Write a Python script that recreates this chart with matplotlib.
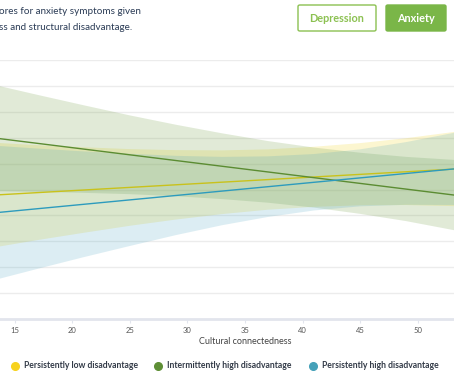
import numpy as np
import matplotlib.pyplot as plt
from matplotlib.patches import FancyBboxPatch
from matplotlib.lines import Line2D

plt.rcParams['font.family'] = ['Lato', 'DejaVu Sans']

# cultural connectedness points where the bands were read
xs = [13, 17, 21, 25, 29, 33, 37, 41, 45, 49, 54]

# fitted lines (two end points)
line_x = [13, 54]
low_line = [4.78, 5.81]
inter_line = [7.00, 4.74]
high_line = [4.09, 5.83]

# confidence bands
low_upper = [6.81, 6.71, 6.63, 6.56, 6.52, 6.51, 6.55, 6.65, 6.79, 6.98, 7.27]
low_lower = [2.75, 3.05, 3.33, 3.60, 3.84, 4.05, 4.22, 4.33, 4.39, 4.40, 4.35]
inter_upper = [9.06, 8.65, 8.25, 7.86, 7.50, 7.17, 6.87, 6.62, 6.42, 6.26, 6.12]
inter_lower = [4.94, 4.91, 4.87, 4.82, 4.74, 4.63, 4.49, 4.30, 4.06, 3.78, 3.36]
high_upper = [6.70, 6.58, 6.47, 6.38, 6.30, 6.26, 6.28, 6.37, 6.55, 6.83, 7.26]
high_lower = [1.48, 1.94, 2.39, 2.82, 3.24, 3.62, 3.94, 4.19, 4.35, 4.41, 4.40]

xticks = [15, 20, 25, 30, 35, 40, 45, 50]
groups = ["Persistently low disadvantage", "Intermittently high disadvantage",
          "Persistently high disadvantage"]

fig = plt.figure(figsize=(4.54, 3.88), dpi=100)
W, H = 454.0, 388.0
ax = fig.add_axes([0, (H - 319) / H, 1, 259 / H])

ax.fill_between(xs, low_lower, low_upper, color='#f0d214', alpha=0.2, lw=0)
ax.fill_between(xs, inter_lower, inter_upper, color='#6a9a3a', alpha=0.2, lw=0)
ax.fill_between(xs, high_lower, high_upper, color='#40a0be', alpha=0.18, lw=0)

ax.plot(line_x, low_line, color='#c9c21b', lw=1.0)
ax.plot(line_x, inter_line, color='#5b8c32', lw=1.0)
ax.plot(line_x, high_line, color='#2d9bbd', lw=1.0)

ax.set_xlim(13.7, 53.17)
ax.set_ylim(0, 10)
ax.set_yticks(range(1, 11))
ax.yaxis.grid(True, color='#ececec', lw=1)
ax.set_axisbelow(True)
ax.tick_params(axis='y', left=False, labelleft=False)
for s in ['top', 'left', 'right']:
    ax.spines[s].set_visible(False)
ax.spines['bottom'].set_color('#e2e5ed')
ax.spines['bottom'].set_linewidth(2)
ax.set_xticks(xticks)
ax.tick_params(axis='x', length=3, color='#e2e5ed', labelsize=5.5, labelcolor='#555555', pad=3)
ax.set_xlabel("Cultural connectedness", fontsize=6.5, color='#444444', labelpad=5)
ax.xaxis.set_label_coords(245 / W, -0.07)

# heading (cropped at left)
fig.text(-1 / W, 1 - 12 / H, "ores for anxiety symptoms given", fontsize=7.1,
         color='#2a3b55', va='center', ha='left')
fig.text(-1 / W, 1 - 27 / H, "ss and structural disadvantage.", fontsize=7.1,
         color='#2a3b55', va='center', ha='left')

# buttons
b1 = FancyBboxPatch((298 / W, 1 - 31 / H), 78 / W, 26 / H, boxstyle="round,pad=0,rounding_size=0.004",
                    transform=fig.transFigure, fc='white', ec='#8cc152', lw=1)
b2 = FancyBboxPatch((386 / W, 1 - 31 / H), 60 / W, 26 / H, boxstyle="round,pad=0,rounding_size=0.004",
                    transform=fig.transFigure, fc='#7ab648', ec='#7ab648', lw=1)
fig.patches.extend([b1, b2])
fig.text(337 / W, 1 - 18 / H, "Depression", fontsize=7.8, fontweight='bold', color='#8cc152',
         ha='center', va='center')
fig.text(416 / W, 1 - 18 / H, "Anxiety", fontsize=7.8, fontweight='bold', color='white',
         ha='center', va='center')

# legend
dot_cols = ['#f7d21e', '#5e8f36', '#46a1b9']
dot_x = [15, 158, 313]
for g, c, dx in zip(groups, dot_cols, dot_x):
    fig.add_artist(Line2D([dx / W], [1 - 366 / H], marker='o', ms=5.5, color=c, lw=0,
                          transform=fig.transFigure))
    fig.text((dx + 9) / W, 1 - 366 / H, g, fontsize=6.2, fontweight='bold', color='#333b48',
             ha='left', va='center')

fig.savefig("out.png", dpi=100)
